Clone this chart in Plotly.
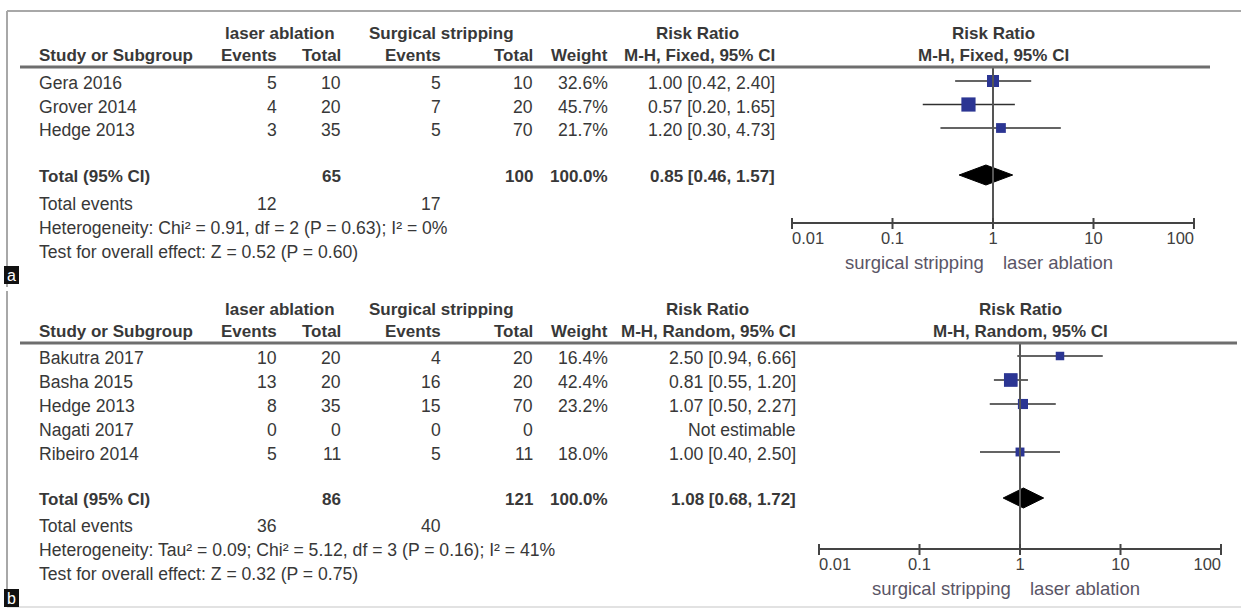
import math
import plotly.graph_objects as go

W, H = 1241, 609

# ---------------- data: panel a (fixed effect) ----------------
study_a = ["Gera 2016", "Grover 2014", "Hedge 2013"]
laser_events_a = [5, 4, 3]
laser_total_a = [10, 20, 35]
surg_events_a = [5, 7, 5]
surg_total_a = [10, 20, 70]
weight_a = [32.6, 45.7, 21.7]
rr_a = [1.00, 0.57, 1.20]
lo_a = [0.42, 0.20, 0.30]
hi_a = [2.40, 1.65, 4.73]
pooled_a = [0.85, 0.46, 1.57]
totals_a = [65, 100]
total_events_a = [12, 17]
het_a = "Heterogeneity: Chi² = 0.91, df = 2 (P = 0.63); I² = 0%"
test_a = "Test for overall effect: Z = 0.52 (P = 0.60)"

# ---------------- data: panel b (random effects) ----------------
study_b = ["Bakutra 2017", "Basha 2015", "Hedge 2013", "Nagati 2017", "Ribeiro 2014"]
laser_events_b = [10, 13, 8, 0, 5]
laser_total_b = [20, 20, 35, 0, 11]
surg_events_b = [4, 16, 15, 0, 5]
surg_total_b = [20, 20, 70, 0, 11]
weight_b = [16.4, 42.4, 23.2, None, 18.0]
rr_b = [2.50, 0.81, 1.07, None, 1.00]
lo_b = [0.94, 0.55, 0.50, None, 0.40]
hi_b = [6.66, 1.20, 2.27, None, 2.50]
pooled_b = [1.08, 0.68, 1.72]
totals_b = [86, 121]
total_events_b = [36, 40]
het_b = "Heterogeneity: Tau² = 0.09; Chi² = 5.12, df = 3 (P = 0.16); I² = 41%"
test_b = "Test for overall effect: Z = 0.32 (P = 0.75)"

tick_vals = [0.01, 0.1, 1, 10, 100]
tick_text = ["0.01", "0.1", "1", "10", "100"]
favours = ["surgical stripping", "laser ablation"]

# ---------------- styles ----------------
FONT = "Liberation Sans, Arial, sans-serif"
TEXT = "#383838"
SQUARE = "#2b3593"
FS = 17.6       # body text
FSB = 17.0      # bold header text
DECADE = 100.5  # px per log decade on the forest axis

fig = go.Figure()
annotations = []
shapes = []


def txt(x, y, s, anchor="right", bold=False, size=None, color=TEXT):
    if size is None:
        size = FSB if bold else FS
    annotations.append(dict(
        x=x / W, y=y, xref="paper", yref="y", showarrow=False,
        text=f"<b>{s}</b>" if bold else s,
        xanchor=anchor, yanchor="middle",
        font=dict(family=FONT, size=size, color=color)))


def hline(x0, x1, y, color, width):
    shapes.append(dict(type="line", xref="paper", yref="y",
                       x0=x0 / W, x1=x1 / W, y0=y, y1=y,
                       line=dict(color=color, width=width)))


def vline(x, y0, y1, color, width):
    shapes.append(dict(type="line", xref="paper", yref="y",
                       x0=x / W, x1=x / W, y0=y0, y1=y1,
                       line=dict(color=color, width=width)))


# panel frames
hline(7, 1241, 11, "#a8a8a8", 2)
vline(7, 11, 287, "#a8a8a8", 2)
vline(7, 291, 607, "#a8a8a8", 2)
hline(7, 1241, 607, "#d8d8d8", 1.5)


def panel(p):
    xa = p["xaxis"]
    top = p["top"]
    # column headers
    txt(280, top + 23, "laser ablation", anchor="center", bold=True)
    txt(367, top + 23, "Surgical stripping", anchor="left", bold=True)
    txt(p["rr_center"], top + 23, "Risk Ratio", anchor="center", bold=True)
    y2 = top + 45
    txt(37, y2, "Study or Subgroup", anchor="left", bold=True)
    txt(279, y2, "Events", bold=True)
    txt(343, y2, "Total", bold=True)
    txt(443, y2, "Events", bold=True)
    txt(535, y2, "Total", bold=True)
    txt(610, y2, "Weight", bold=True)
    txt(p["rr_right"], y2, p["method"], bold=True)
    line_y = top + 57
    hline(20, p["line_end"], line_y, "#6e6e6e", 3)

    # forest header over the plot
    for dy, s in ((23, "Risk Ratio"), (45, p["method"])):
        annotations.append(dict(x=0, y=top + dy, xref=xa, yref="y", showarrow=False,
                                text=f"<b>{s}</b>", xanchor="center", yanchor="middle",
                                font=dict(family=FONT, size=FSB, color=TEXT)))

    # study rows
    n = len(p["study"])
    rows = [p["row0"] + i * p["dy"] for i in range(n)]
    for i, y in enumerate(rows):
        ty = y + 2
        txt(37, ty, p["study"][i], anchor="left")
        txt(279, ty, str(p["le"][i]))
        txt(343, ty, str(p["lt"][i]))
        txt(443, ty, str(p["se"][i]))
        txt(535, ty, str(p["st"][i]))
        if p["rr"][i] is None:
            txt(p["rr_right"], ty, "Not estimable")
            continue
        txt(610, ty, f"{p['w'][i]:.1f}%")
        txt(p["rr_right"], ty, f"{p['rr'][i]:.2f} [{p['lo'][i]:.2f}, {p['hi'][i]:.2f}]")
        fig.add_trace(go.Scatter(x=[p["lo"][i], p["hi"][i]], y=[y, y], mode="lines",
                                 line=dict(color="#303030", width=1.6),
                                 xaxis=xa, yaxis="y", hoverinfo="skip"))
        fig.add_trace(go.Scatter(x=[p["rr"][i]], y=[y], mode="markers",
                                 marker=dict(symbol="square", size=2.1 * math.sqrt(p["w"][i]),
                                             color=SQUARE, line=dict(width=0)),
                                 xaxis=xa, yaxis="y", cliponaxis=False))

    # pooled row
    ty = p["total_y"]
    est, plo, phi = p["pooled"]
    txt(37, ty + 1, "Total (95% CI)", anchor="left", bold=True)
    txt(343, ty + 1, str(p["totals"][0]), bold=True)
    txt(535, ty + 1, str(p["totals"][1]), bold=True)
    txt(610, ty + 1, "100.0%", bold=True)
    txt(p["rr_right"], ty + 1, f"{est:.2f} [{plo:.2f}, {phi:.2f}]", bold=True)
    half = 10
    fig.add_trace(go.Scatter(x=[plo, est, phi, est, plo],
                             y=[ty, ty - half, ty, ty + half, ty],
                             mode="lines", fill="toself", fillcolor="black",
                             line=dict(color="black", width=1),
                             xaxis=xa, yaxis="y", hoverinfo="skip"))

    # summary text lines
    txt(37, p["ev_y"], "Total events", anchor="left")
    txt(279, p["ev_y"], str(p["tev"][0]))
    txt(443, p["ev_y"], str(p["tev"][1]))
    txt(37, p["ev_y"] + 24, p["het"], anchor="left")
    txt(37, p["ev_y"] + 48, p["test"], anchor="left")

    # line of no effect
    ax_y = p["axis_y"]
    fig.add_trace(go.Scatter(x=[1, 1], y=[line_y, ax_y], mode="lines",
                             line=dict(color="#555555", width=2),
                             xaxis=xa, yaxis="y", hoverinfo="skip"))
    # scale axis, ticks and tick labels
    fig.add_trace(go.Scatter(x=[tick_vals[0], tick_vals[-1]], y=[ax_y, ax_y], mode="lines",
                             line=dict(color="#444444", width=2),
                             xaxis=xa, yaxis="y", hoverinfo="skip"))
    tx, ty2 = [], []
    for t in tick_vals:
        tx += [t, t, None]
        ty2 += [ax_y - 5, ax_y + 6, None]
    fig.add_trace(go.Scatter(x=tx, y=ty2, mode="lines",
                             line=dict(color="#444444", width=2),
                             xaxis=xa, yaxis="y", hoverinfo="skip"))
    positions = ["middle center"] * len(tick_vals)
    positions[0] = "middle right"
    positions[-1] = "middle left"
    fig.add_trace(go.Scatter(x=tick_vals, y=[ax_y + 17] * len(tick_vals), mode="text",
                             text=tick_text, textposition=positions,
                             textfont=dict(family=FONT, size=16.5, color="#404040"),
                             xaxis=xa, yaxis="y", cliponaxis=False, hoverinfo="skip"))
    for s, anchor, shift in ((favours[0], "right", -7), (favours[1], "left", 8)):
        annotations.append(dict(x=0, y=ax_y + 39, xref=xa, yref="y", showarrow=False,
                                text=s, xanchor=anchor, xshift=shift, yanchor="middle",
                                font=dict(family=FONT, size=18.5, color="#5a5566")))

    # panel letter
    ly = p["letter_y"]
    shapes.append(dict(type="rect", xref="paper", yref="y", x0=4 / W, x1=19 / W,
                       y0=ly - 9, y1=ly + 9, fillcolor="#111111",
                       line=dict(width=0), layer="above"))
    annotations.append(dict(x=11.5 / W, y=ly, xref="paper", yref="y",
                            showarrow=False, text=p["letter"], xanchor="center",
                            yanchor="middle",
                            font=dict(family=FONT, size=16, color="white")))


panel(dict(xaxis="x", top=10, method="M-H, Fixed, 95% CI", rr_center=697, rr_right=777,
           line_end=1210, study=study_a, le=laser_events_a, lt=laser_total_a,
           se=surg_events_a, st=surg_total_a, w=weight_a, rr=rr_a, lo=lo_a, hi=hi_a,
           row0=81, dy=23.5, total_y=175, pooled=pooled_a, totals=totals_a,
           ev_y=204, tev=total_events_a, het=het_a, test=test_a, axis_y=223,
           letter="a", letter_y=275))

panel(dict(xaxis="x2", top=286, method="M-H, Random, 95% CI", rr_center=708, rr_right=798,
           line_end=1237, study=study_b, le=laser_events_b, lt=laser_total_b,
           se=surg_events_b, st=surg_total_b, w=weight_b, rr=rr_b, lo=lo_b, hi=hi_b,
           row0=356, dy=24, total_y=498, pooled=pooled_b, totals=totals_b,
           ev_y=526, tev=total_events_b, het=het_b, test=test_b, axis_y=549,
           letter="b", letter_y=598))

half_span = 2.1 * DECADE


def dom(center_px):
    return [(center_px - half_span) / W, (center_px + half_span) / W]


fig.update_layout(
    width=W, height=H,
    margin=dict(l=0, r=0, t=0, b=0),
    paper_bgcolor="white", plot_bgcolor="rgba(0,0,0,0)",
    showlegend=False,
    xaxis=dict(type="log", range=[-2.1, 2.1], domain=dom(993), visible=False, anchor="y"),
    xaxis2=dict(type="log", range=[-2.1, 2.1], domain=dom(1020), visible=False, anchor="y"),
    yaxis=dict(range=[H, 0], domain=[0, 1], visible=False),
    annotations=annotations,
    shapes=shapes,
)

fig.write_html("out.html")
